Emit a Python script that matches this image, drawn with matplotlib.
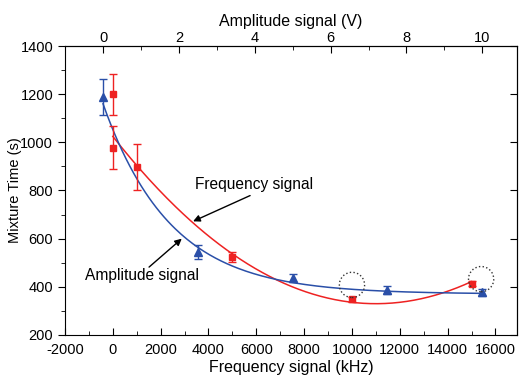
import numpy as np
import matplotlib
matplotlib.use("Agg")
import matplotlib.pyplot as plt
from matplotlib.ticker import MultipleLocator

plt.rcParams['font.family'] = ['Liberation Sans', 'DejaVu Sans']
plt.rcParams['axes.unicode_minus'] = False

# Frequency-signal data (bottom axis, kHz)
freq_khz = [0, 0, 1000, 5000, 10000, 15000]
freq_time = [1200, 978, 897, 525, 348, 413]
freq_err = [85, 88, 95, 20, 10, 10]

# Amplitude-signal data (top axis, V)
amp_v = [0, 2.5, 5, 7.5, 10]
amp_time = [1190, 545, 437, 387, 378]
amp_err = [75, 30, 15, 15, 15]

# fitted curve parameters
red_fit_min_x, red_fit_min_y, red_fit_a = 11000.0, 330.0, 5.74e-6   # quadratic
blue_fit_y0, blue_fit_A, blue_fit_t = 370.0, 790.0, 1.78            # exp decay

# mapping of top axis onto bottom axis
V0_KHZ = -410.0
KHZ_PER_V = 1586.0

red = '#ee2222'
blue = '#2a4fa8'

fig = plt.figure(figsize=(5.19, 3.80), dpi=100)
ax = fig.add_axes([65/519, 1-335/380, (517-65)/519, (335-46)/380])

# fits
xr = np.linspace(min(freq_khz), max(freq_khz), 200)
ax.plot(xr, red_fit_min_y + red_fit_a*(xr - red_fit_min_x)**2, color=red, lw=1.1, zorder=2)
vr = np.linspace(min(amp_v), max(amp_v), 200)
ax.plot(V0_KHZ + vr*KHZ_PER_V, blue_fit_y0 + blue_fit_A*np.exp(-vr/blue_fit_t),
        color=blue, lw=1.1, zorder=2)

# data
ax.errorbar(freq_khz, freq_time, yerr=freq_err, fmt='s', color=red, ms=5,
            ecolor=red, elinewidth=1, capsize=3, zorder=3)
amp_x = [V0_KHZ + v*KHZ_PER_V for v in amp_v]
ax.errorbar(amp_x, amp_time, yerr=amp_err, fmt='^', color=blue, ms=6,
            ecolor=blue, elinewidth=1, capsize=3, zorder=3)

# dotted circles
ax.scatter([10000, 15400], [408, 432], s=330, facecolors='none', edgecolors='#333333',
           linestyles=':', linewidths=1.0, zorder=4)

# annotations
ax.text(3430, 825, 'Frequency signal', fontsize=11.2, ha='left', va='center')
ax.annotate('', xy=(3356, 672), xytext=(5740, 779),
            arrowprops=dict(arrowstyle='-|>', color='black', lw=1, mutation_scale=10,
                            shrinkA=0, shrinkB=0))
ax.text(-1160, 449, 'Amplitude signal', fontsize=11.2, ha='left', va='center')
ax.annotate('', xy=(2883, 600), xytext=(1515, 482),
            arrowprops=dict(arrowstyle='-|>', color='black', lw=1, mutation_scale=10,
                            shrinkA=0, shrinkB=0))

ax.set_xlim(-2000, 16900)
ax.set_ylim(200, 1400)
ax.set_xticks(np.arange(-2000, 16001, 2000))
ax.xaxis.set_minor_locator(MultipleLocator(1000))
ax.set_yticks(np.arange(200, 1401, 200))
ax.yaxis.set_minor_locator(MultipleLocator(100))
ax.tick_params(axis='x', which='both', direction='in', labelsize=10.5, pad=6)
ax.tick_params(axis='x', which='major', length=5)
ax.tick_params(axis='x', which='minor', length=3)
ax.tick_params(axis='y', which='major', direction='out', length=5, labelsize=10.5)
ax.tick_params(axis='y', which='minor', direction='out', length=3)
ax.set_xlabel('Frequency signal (kHz)', fontsize=11.5, labelpad=2)
ax.set_ylabel('Mixture Time (s)', fontsize=10.5, labelpad=-1)

# top axis
axt = ax.secondary_xaxis('top', functions=(lambda f: (f - V0_KHZ)/KHZ_PER_V,
                                           lambda v: V0_KHZ + v*KHZ_PER_V))
axt.set_xticks([0, 2, 4, 6, 8, 10])
axt.xaxis.set_minor_locator(MultipleLocator(1))
axt.tick_params(which='both', direction='in', labelsize=10.5, pad=1)
axt.tick_params(which='major', length=5)
axt.tick_params(which='minor', length=3)
axt.set_xlabel('Amplitude signal (V)', fontsize=11.5, labelpad=3)

# right axis ticks
axr = ax.secondary_yaxis('right')
axr.set_yticks(np.arange(200, 1401, 200))
axr.tick_params(direction='in', length=5, labelright=False)

fig.savefig('out.png', dpi=100)
